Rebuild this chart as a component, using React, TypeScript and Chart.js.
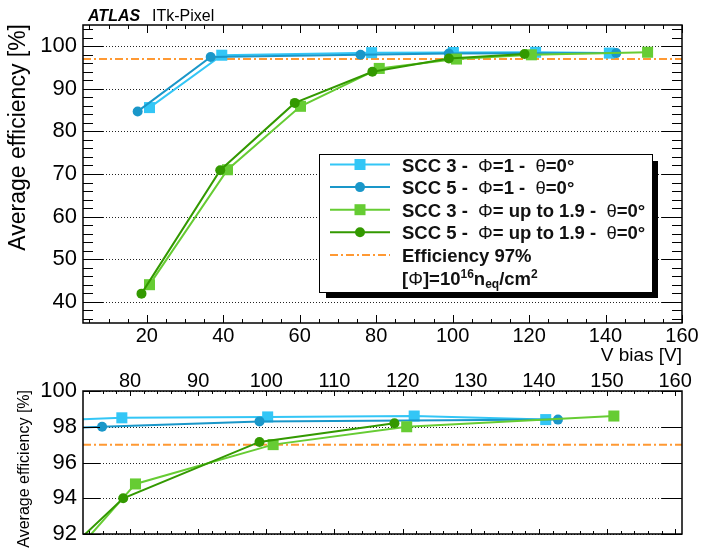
import { useEffect, useRef } from "react";
import { Chart, registerables } from "chart.js";

Chart.register(...registerables);

const FONT = '"Liberation Sans", Arial, Helvetica, sans-serif';

// ---- data ----
const scc3Phi1X = [20.7, 39.6, 78.8, 100.2, 121.7, 141.0];
const scc3Phi1Y = [85.6, 97.9, 98.5, 98.55, 98.6, 98.4];
const scc5Phi1X = [17.6, 36.7, 75.9, 99.0, 142.8];
const scc5Phi1Y = [84.7, 97.5, 98.0, 98.3, 98.4];
const scc3Phi19X = [20.7, 41.1, 60.2, 80.8, 101.0, 120.6, 151.0];
const scc3Phi19Y = [44.0, 71.0, 85.9, 94.8, 97.0, 98.0, 98.6];
const scc5Phi19X = [18.6, 39.2, 58.7, 79.0, 99.0, 118.8];
const scc5Phi19Y = [41.9, 70.9, 86.7, 94.0, 97.15, 98.2];
const threshold = 97;

const SERIES_LABELS = [
  "SCC 3 -  Φ=1 -  θ=0°",
  "SCC 5 -  Φ=1 -  θ=0°",
  "SCC 3 -  Φ= up to 1.9 -  θ=0°",
  "SCC 5 -  Φ= up to 1.9 -  θ=0°",
  "Efficiency 97%",
];
const FLUENCE_NOTE = "[Φ]=10^{16}n_{eq}/cm^{2}";

const X_TICKS_TOP = [20, 40, 60, 80, 100, 120, 140, 160];
const Y_TICKS_TOP = [40, 50, 60, 70, 80, 90, 100];
const X_TICKS_BOTTOM = [80, 90, 100, 110, 120, 130, 140, 150, 160];
const Y_TICKS_BOTTOM = [92, 94, 96, 98, 100];

const TOP_X_RANGE = [3.3, 160];
const TOP_Y_RANGE = [35, 105];
const BOT_X_RANGE = [73.1, 161];
const BOT_Y_RANGE = [92, 100];

// ---- styles ----
const C_LB = "#33c6f6";
const C_DB = "#1a97c9";
const C_LG = "#66cc33";
const C_DG = "#339900";
const C_OR = "#ff9933";
const DASHDOT = [8, 3, 2, 3];

function pts(xs: number[], ys: number[]) {
  return xs.map((x, i) => ({ x, y: ys[i] }));
}

function makeDatasets(xMin: number, xMax: number) {
  const base = { borderWidth: 2, tension: 0, fill: false, pointBorderWidth: 0 };
  return [
    { ...base, label: SERIES_LABELS[0], data: pts(scc3Phi1X, scc3Phi1Y), borderColor: C_LB, backgroundColor: C_LB, pointStyle: "rect", pointRadius: 7.8, order: 5 },
    { ...base, label: SERIES_LABELS[1], data: pts(scc5Phi1X, scc5Phi1Y), borderColor: C_DB, backgroundColor: C_DB, pointStyle: "circle", pointRadius: 5, order: 4 },
    { ...base, label: SERIES_LABELS[2], data: pts(scc3Phi19X, scc3Phi19Y), borderColor: C_LG, backgroundColor: C_LG, pointStyle: "rect", pointRadius: 7.8, order: 3 },
    { ...base, label: SERIES_LABELS[3], data: pts(scc5Phi19X, scc5Phi19Y), borderColor: C_DG, backgroundColor: C_DG, pointStyle: "circle", pointRadius: 5, order: 2 },
    { ...base, label: SERIES_LABELS[4], data: [{ x: xMin, y: threshold }, { x: xMax, y: threshold }], borderColor: C_OR, backgroundColor: C_OR, borderDash: DASHDOT, pointRadius: 0, order: 6 },
  ];
}

type AxesOpts = {
  xMajor: number; xMinor: number; xMajorLen: number; xMinorLen: number;
  yMajor: number; yMinor: number;
  yMajorLenL: number; yMinorLenL: number; yMajorLenR: number; yMinorLenR: number;
};

function stepValues(min: number, max: number, step: number) {
  const out: number[] = [];
  for (let k = Math.ceil(min / step - 1e-9); k * step <= max + 1e-9; k++) out.push(k * step);
  return out;
}
function isMult(v: number, m: number) {
  return Math.abs(v / m - Math.round(v / m)) < 1e-6;
}

function axesPlugin(o: AxesOpts) {
  return {
    id: "rootAxes",
    beforeDatasetsDraw(chart: any) {
      const { ctx, chartArea: a, scales } = chart;
      const y = scales.y;
      ctx.save();
      ctx.strokeStyle = "#222";
      ctx.lineWidth = 1;
      ctx.setLineDash([1, 2]);
      for (const t of y.ticks) {
        const py = Math.round(y.getPixelForValue(t.value)) + 0.5;
        ctx.beginPath();
        ctx.moveTo(a.left + o.yMajorLenL, py);
        ctx.lineTo(a.right - o.yMajorLenR, py);
        ctx.stroke();
      }
      ctx.restore();
    },
    afterDatasetsDraw(chart: any) {
      const { ctx, chartArea: a, scales } = chart;
      const x = scales.x;
      const y = scales.y;
      ctx.save();
      ctx.strokeStyle = "#000";
      ctx.lineWidth = 1;
      ctx.setLineDash([]);
      ctx.beginPath();
      for (const v of stepValues(x.min, x.max, o.xMinor)) {
        const len = isMult(v, o.xMajor) ? o.xMajorLen : o.xMinorLen;
        const px = Math.round(x.getPixelForValue(v)) + 0.5;
        ctx.moveTo(px, a.bottom);
        ctx.lineTo(px, a.bottom - len);
        ctx.moveTo(px, a.top);
        ctx.lineTo(px, a.top + len);
      }
      for (const v of stepValues(y.min, y.max, o.yMinor)) {
        const major = isMult(v, o.yMajor);
        const py = Math.round(y.getPixelForValue(v)) + 0.5;
        const l = major ? o.yMajorLenL : o.yMinorLenL;
        const r = major ? o.yMajorLenR : o.yMinorLenR;
        if (l > 0) { ctx.moveTo(a.left, py); ctx.lineTo(a.left + l, py); }
        if (r > 0) { ctx.moveTo(a.right, py); ctx.lineTo(a.right - r, py); }
      }
      ctx.stroke();
      ctx.lineWidth = 1.5;
      ctx.strokeRect(a.left, a.top, a.right - a.left, a.bottom - a.top);
      ctx.restore();
    },
  };
}

function drawRich(ctx: CanvasRenderingContext2D, text: string, x: number, y: number, size: number) {
  const parts = text.split(/(\^\{[^}]*\}|_\{[^}]*\}|[Φθ])/);
  let cx = x;
  for (const p of parts) {
    if (!p) continue;
    let t = p, weight = "bold", s = size, dy = 0;
    if (p.startsWith("^{")) { t = p.slice(2, -1); s = size * 0.65; dy = -size * 0.33; }
    else if (p.startsWith("_{")) { t = p.slice(2, -1); s = size * 0.65; dy = size * 0.2; }
    else if (p === "Φ" || p === "θ") { weight = "normal"; }
    ctx.font = `${weight} ${s}px ${FONT}`;
    ctx.fillText(t, cx, y + dy);
    cx += ctx.measureText(t).width;
  }
}

function marker(ctx: CanvasRenderingContext2D, style: string, x: number, y: number, color: string) {
  ctx.fillStyle = color;
  if (style === "rect") {
    ctx.fillRect(x - 5.5, y - 5.5, 11, 11);
  } else {
    ctx.beginPath();
    ctx.arc(x, y, 5, 0, Math.PI * 2);
    ctx.fill();
  }
}

const topDecor = {
  id: "topDecor",
  afterDraw(chart: any) {
    const ctx: CanvasRenderingContext2D = chart.ctx;
    ctx.save();
    ctx.fillStyle = "#000";
    ctx.textBaseline = "alphabetic";
    // header
    ctx.font = `italic bold 16px ${FONT}`;
    ctx.textAlign = "left";
    ctx.fillText("ATLAS", 88, 20.5);
    ctx.font = `normal 16px ${FONT}`;
    ctx.fillText("ITk-Pixel", 152, 20.5);
    // x title
    ctx.font = `normal 19px ${FONT}`;
    ctx.textAlign = "right";
    ctx.fillText("V bias [V]", 682, 361);
    // y title
    ctx.save();
    ctx.translate(25, 24);
    ctx.rotate(-Math.PI / 2);
    ctx.font = `normal 23px ${FONT}`;
    ctx.textAlign = "right";
    ctx.fillText("Average efficiency [%]", 0, 0);
    ctx.restore();

    // legend
    const x1 = 319, y1 = 154, x2 = 653, y2 = 293, d = 5;
    ctx.fillStyle = "#000";
    ctx.fillRect(x2, y1 + 7, d, y2 - y1 - 7 + d);
    ctx.fillRect(x1 + 7, y2, x2 - x1 - 7 + d, d);
    ctx.fillStyle = "#fff";
    ctx.fillRect(x1, y1, x2 - x1, y2 - y1);
    ctx.strokeStyle = "#000";
    ctx.lineWidth = 1;
    ctx.strokeRect(x1 + 0.5, y1 + 0.5, x2 - x1 - 1, y2 - y1 - 1);

    const items = [
      { color: C_LB, style: "rect", dash: [] as number[] },
      { color: C_DB, style: "circle", dash: [] as number[] },
      { color: C_LG, style: "rect", dash: [] as number[] },
      { color: C_DG, style: "circle", dash: [] as number[] },
      { color: C_OR, style: "none", dash: DASHDOT },
    ];
    const rowY = (i: number) => 164.5 + i * 22.6;
    ctx.textAlign = "left";
    items.forEach((it, i) => {
      const cy = rowY(i);
      ctx.strokeStyle = it.color;
      ctx.lineWidth = 2;
      ctx.setLineDash(it.dash);
      ctx.beginPath();
      ctx.moveTo(330, cy);
      ctx.lineTo(390, cy);
      ctx.stroke();
      ctx.setLineDash([]);
      if (it.style !== "none") marker(ctx, it.style, 360, cy, it.color);
      ctx.fillStyle = "#111";
      drawRich(ctx, SERIES_LABELS[i], 402, cy + 7, 18.5);
    });
    ctx.fillStyle = "#111";
    drawRich(ctx, FLUENCE_NOTE, 402, rowY(5) + 7, 18.5);
    ctx.restore();
  },
};

const botDecor = {
  id: "botDecor",
  afterDraw(chart: any) {
    const ctx: CanvasRenderingContext2D = chart.ctx;
    ctx.save();
    ctx.fillStyle = "#000";
    ctx.translate(29, 30);
    ctx.rotate(-Math.PI / 2);
    ctx.font = `normal 16px ${FONT}`;
    ctx.textAlign = "right";
    ctx.textBaseline = "alphabetic";
    ctx.fillText("Average efficiency [%]", 0, 0);
    ctx.restore();
  },
};

function scale(range: number[], ticks: number[], fontSize: number, padding: number, extra: any) {
  return {
    type: "linear",
    min: range[0],
    max: range[1],
    afterBuildTicks: (s: any) => {
      s.ticks = ticks.map((v) => ({ value: v }));
    },
    grid: { display: false, drawTicks: false },
    border: { display: false },
    ticks: {
      color: "#000",
      font: { family: FONT, size: fontSize, lineHeight: 1 },
      padding,
      maxRotation: 0,
      minRotation: 0,
      autoSkip: false,
    },
    ...extra,
  };
}

export default function App() {
  const topRef = useRef<HTMLCanvasElement>(null);
  const botRef = useRef<HTMLCanvasElement>(null);

  useEffect(() => {
    const common = {
      responsive: false,
      animation: false,
      devicePixelRatio: 1,
      events: [],
      plugins: { legend: { display: false }, tooltip: { enabled: false }, title: { display: false } },
    };
    const top = new Chart(topRef.current as HTMLCanvasElement, {
      type: "line",
      data: { datasets: makeDatasets(TOP_X_RANGE[0], TOP_X_RANGE[1]) as any },
      options: {
        ...common,
        layout: { padding: { left: 0, top: 25, right: 20, bottom: 0 } },
        scales: {
          x: scale(TOP_X_RANGE, X_TICKS_TOP, 20, 3, { position: "bottom", afterFit: (s: any) => { s.height = 49; } }),
          y: scale(TOP_Y_RANGE, Y_TICKS_TOP, 22, 6, { position: "left", afterFit: (s: any) => { s.width = 83; } }),
        },
      } as any,
      plugins: [
        axesPlugin({ xMajor: 20, xMinor: 5, xMajorLen: 8, xMinorLen: 4, yMajor: 10, yMinor: 2, yMajorLenL: 20, yMinorLenL: 10, yMajorLenR: 20, yMinorLenR: 10 }),
        topDecor,
      ] as any,
    });
    const bot = new Chart(botRef.current as HTMLCanvasElement, {
      type: "line",
      data: { datasets: makeDatasets(BOT_X_RANGE[0], BOT_X_RANGE[1]) as any },
      options: {
        ...common,
        layout: { padding: { left: 0, top: 0, right: 20, bottom: 16 } },
        scales: {
          x: scale(BOT_X_RANGE, X_TICKS_BOTTOM, 20, 0, { position: "top", afterFit: (s: any) => { s.height = 31; } }),
          y: scale(BOT_Y_RANGE, Y_TICKS_BOTTOM, 22, 6, { position: "left", afterFit: (s: any) => { s.width = 83; } }),
        },
      } as any,
      plugins: [
        axesPlugin({ xMajor: 10, xMinor: 2, xMajorLen: 5, xMinorLen: 3, yMajor: 2, yMinor: 2, yMajorLenL: 17, yMinorLenL: 17, yMajorLenR: 20, yMinorLenR: 20 }),
        botDecor,
      ] as any,
    });
    return () => {
      top.destroy();
      bot.destroy();
    };
  }, []);

  return (
    <div style={{ position: "fixed", left: 0, top: 0, width: 702, height: 551, background: "#fff", overflow: "hidden" }}>
      <canvas ref={topRef} width={702} height={372} style={{ position: "absolute", left: 0, top: 0, width: 702, height: 372 }} />
      <canvas ref={botRef} width={702} height={191} style={{ position: "absolute", left: 0, top: 360, width: 702, height: 191 }} />
    </div>
  );
}
